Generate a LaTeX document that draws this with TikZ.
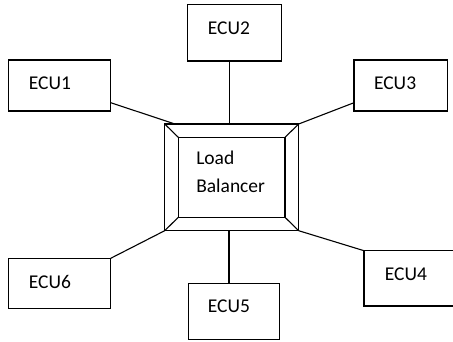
\documentclass[tikz,border=0pt]{standalone}
\usepackage{fontspec}
\setmainfont{Carlito}
\usetikzlibrary{calc}
\begin{document}
\begin{tikzpicture}[x=1pt,y=-1pt,
  line width=1.1pt,
  ecu/.style={draw, rectangle, inner sep=0pt, outer sep=0pt},
  lbl/.style={anchor=base west, inner sep=0pt, font=\fontsize{19.5}{23}\selectfont},
  frame/.style={draw, rectangle, inner sep=0pt, outer sep=0pt}]
\useasboundingbox (0,0) rectangle (453,341);
\begin{scope}
\clip (0,0) rectangle (453,341);
% ECU boxes
\node[ecu, minimum width=102.4pt, minimum height=51pt]   (e1) at (59.5,85.5) {};
\node[ecu, minimum width=94.4pt,  minimum height=56.7pt] (e2) at (234.5,32.65) {};
\node[ecu, minimum width=93.3pt,  minimum height=51pt]   (e3) at (400.65,85.5) {};
\node[ecu, minimum width=95pt,    minimum height=55.3pt] (e4) at (411.5,278.35) {};
\node[ecu, minimum width=91pt,    minimum height=56pt]   (e5) at (233.8,311.3) {};
\node[ecu, minimum width=102.4pt, minimum height=50pt]   (e6) at (59.5,283.3) {};
% load balancer: bevelled frame
\node[frame, minimum width=134pt,   minimum height=106.7pt] (lbo) at (231.7,177.35) {};
\node[frame, minimum width=106.7pt, minimum height=80pt]    (lbi) at (231.65,177.3) {};
\draw (lbo.north west) -- (lbi.north west);
\draw (lbo.north east) -- (lbi.north east);
\draw (lbo.south west) -- (lbi.south west);
\draw (lbo.south east) -- (lbi.south east);
% labels
\node[lbl] at ($(e1.north west)+(20,29.5)$) {ECU1};
\node[lbl] at ($(e2.north west)+(20,29.8)$) {ECU2};
\node[lbl] at ($(e3.north west)+(19.5,29.3)$) {ECU3};
\node[lbl] at ($(e4.north west)+(20.3,29.3)$) {ECU4};
\node[lbl] at ($(e5.north west)+(19,29.4)$) {ECU5};
\node[lbl] at ($(e6.north west)+(20,30)$) {ECU6};
\node[lbl] at (195.7,164) {Load};
\node[lbl] at (195.7,192.3) {Balancer};
% connectors
\draw ($(e1.south east)+(0,-8.3)$) -- ($(lbo.north west)+(10.3,0)$);
\draw ($(e2.south)+(-5.2,0)$) coordinate (c2) -- (c2 |- lbo.north);
\draw ($(e3.south west)+(0,-8.3)$) -- (lbo.north east);
\draw (e4.north west) -- (lbo.south east);
\draw ($(e5.north)+(-4.8,0)$) coordinate (c5) -- (c5 |- lbo.south);
\draw (e6.north east) -- (lbo.south west);
\end{scope}
\end{tikzpicture}
\end{document}
